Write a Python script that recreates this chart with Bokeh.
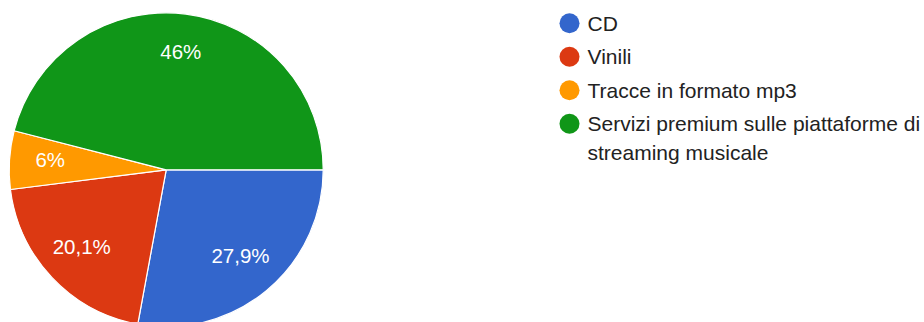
import math
import textwrap
from bokeh.plotting import figure
from bokeh.models import Range1d, ColumnDataSource
from bokeh.core.properties import value
from bokeh.embed import file_html
from bokeh.resources import INLINE

# ---- data ----
categories = ["CD", "Vinili", "Tracce in formato mp3",
              "Servizi premium sulle piattaforme di streaming musicale"]
percentages = [27.9, 20.1, 6.0, 46.0]
pct_labels = ["27,9%", "20,1%", "6%", "46%"]
colors = ["#3366CC", "#DC3912", "#FF9900", "#109618"]

W, H = 924, 322
p = figure(width=W, height=H, output_backend="svg", toolbar_location=None,
           x_range=Range1d(0, W), y_range=Range1d(0, H), min_border=0)
p.axis.visible = False
p.grid.visible = False
p.outline_line_color = None
p.background_fill_color = "white"
p.border_fill_color = "white"

# screen -> data: x = sx, y = H - sy
cx, cy, r = 165.7, H - 169.3, 157.0
total = sum(percentages)
starts, ends, mids = [], [], []
acc = 0.0
for v in percentages:
    a0 = acc / total * 2 * math.pi
    acc += v
    a1 = acc / total * 2 * math.pi
    starts.append(a0)
    ends.append(a1)
    mids.append((a0 + a1) / 2)

label_lift = 3.5
src = ColumnDataSource(dict(
    start=[-e for e in ends], end=[-s for s in starts], color=colors,
    lx=[cx + 0.74 * r * math.cos(m) for m in mids],
    ly=[cy - 0.74 * r * math.sin(m) + label_lift for m in mids],
    lab=pct_labels,
))
p.wedge(x=cx, y=cy, radius=r, start_angle="start", end_angle="end",
        fill_color="color", line_color="white", line_width=1.2, source=src)
p.text(x="lx", y="ly", text="lab", source=src, text_color="white",
       text_font=value("Liberation Sans"), text_font_size="20.5px",
       text_align="center", text_baseline="middle")

# ---- legend ----
leg_x, leg_y0, row_h, line_h = 569.0, H - 22.7, 33.5, 28.5
tx = leg_x + 18
cur_y = leg_y0
for name, col in zip(categories, colors):
    p.circle(x=[leg_x], y=[cur_y], radius=10, fill_color=col, line_color=None)
    lines = textwrap.wrap(name, 36)
    p.text(x=[tx] * len(lines), y=[cur_y - i * line_h for i in range(len(lines))],
           text=lines, text_color="#222222",
           text_font=value("Liberation Sans"), text_font_size="21px",
           text_align="left", text_baseline="middle")
    cur_y -= row_h

open("out.html", "w").write(file_html(p, INLINE))
